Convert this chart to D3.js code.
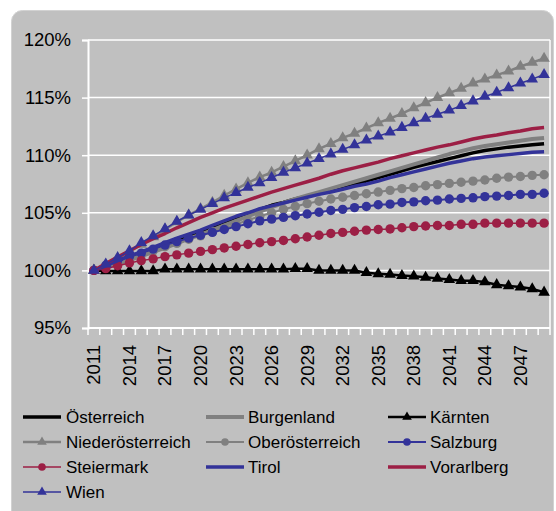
<!DOCTYPE html>
<html>
<head>
<meta charset="utf-8">
<script src="https://cdn.jsdelivr.net/npm/d3@7"></script>
<style>
  html, body { margin: 0; padding: 0; background: #ffffff; }
  svg { display: block; font-family: "Liberation Sans", Arial, sans-serif; }
</style>
</head>
<body>
<svg id="chart" width="556" height="511"></svg>
<script>
// Bevölkerungsentwicklung 2011 = 100 %
const years = d3.range(2011, 2050);
const yTicks = [95, 100, 105, 110, 115, 120];
const xLabelYears = [2011, 2014, 2017, 2020, 2023, 2026, 2029, 2032, 2035, 2038, 2041, 2044, 2047];

const oesterreich = [100.0, 100.4, 100.8, 101.2, 101.5, 101.9, 102.3, 102.6, 102.95, 103.3, 103.7, 104.1, 104.5, 104.9, 105.3, 105.65, 105.9, 106.2, 106.45, 106.7, 106.95, 107.2, 107.5, 107.75, 108.05, 108.35, 108.65, 108.95, 109.2, 109.45, 109.7, 109.95, 110.2, 110.4, 110.55, 110.7, 110.8, 110.9, 111.0];
const burgenland = [100.0, 100.3, 100.6, 100.9, 101.25, 101.6, 101.95, 102.35, 102.75, 103.1, 103.5, 103.9, 104.3, 104.7, 105.1, 105.5, 105.85, 106.2, 106.5, 106.8, 107.1, 107.4, 107.7, 108.0, 108.3, 108.6, 108.9, 109.2, 109.5, 109.8, 110.1, 110.35, 110.6, 110.8, 110.95, 111.1, 111.25, 111.4, 111.5];
const kaernten = [100.0, 99.95, 99.95, 99.95, 99.95, 99.95, 100.1, 100.1, 100.1, 100.1, 100.1, 100.1, 100.1, 100.1, 100.1, 100.1, 100.1, 100.15, 100.15, 100.0, 100.0, 100.0, 100.0, 99.8, 99.7, 99.65, 99.55, 99.5, 99.4, 99.3, 99.2, 99.1, 99.1, 99.0, 98.75, 98.65, 98.55, 98.4, 98.1];
const niederoesterreich = [100.0, 100.5, 101.05, 101.6, 102.25, 102.9, 103.55, 104.2, 104.8, 105.35, 105.9, 106.5, 107.05, 107.6, 108.1, 108.5, 109.0, 109.5, 110.0, 110.55, 111.0, 111.5, 111.9, 112.35, 112.8, 113.2, 113.6, 114.1, 114.55, 115.0, 115.4, 115.8, 116.25, 116.6, 116.95, 117.3, 117.7, 118.05, 118.4];
const oberoesterreich = [100.0, 100.35, 100.7, 101.05, 101.4, 101.7, 102.05, 102.35, 102.7, 103.0, 103.35, 103.65, 104.0, 104.35, 104.7, 105.0, 105.3, 105.55, 105.8, 106.0, 106.2, 106.35, 106.5, 106.65, 106.8, 106.95, 107.1, 107.2, 107.35, 107.45, 107.55, 107.65, 107.75, 107.85, 108.0, 108.1, 108.15, 108.25, 108.3];
const salzburg = [100.0, 100.45, 100.85, 101.2, 101.5, 101.85, 102.2, 102.5, 102.8, 103.05, 103.3, 103.55, 103.8, 104.05, 104.3, 104.45, 104.6, 104.75, 104.9, 105.05, 105.2, 105.3, 105.45, 105.55, 105.7, 105.75, 105.9, 105.95, 106.05, 106.1, 106.2, 106.25, 106.3, 106.4, 106.45, 106.5, 106.6, 106.6, 106.7];
const steiermark = [100.0, 100.15, 100.4, 100.65, 100.85, 101.0, 101.2, 101.35, 101.5, 101.65, 101.8, 101.95, 102.1, 102.25, 102.4, 102.5, 102.6, 102.75, 102.9, 103.05, 103.2, 103.3, 103.4, 103.5, 103.55, 103.6, 103.7, 103.8, 103.85, 103.9, 103.9, 104.0, 104.0, 104.1, 104.1, 104.1, 104.1, 104.1, 104.1];
const tirol = [100.0, 100.4, 100.85, 101.25, 101.6, 102.0, 102.4, 102.8, 103.15, 103.5, 103.9, 104.3, 104.7, 105.0, 105.35, 105.6, 105.85, 106.1, 106.35, 106.6, 106.8, 107.05, 107.3, 107.5, 107.75, 108.05, 108.3, 108.55, 108.8, 109.05, 109.3, 109.5, 109.7, 109.85, 109.95, 110.05, 110.15, 110.25, 110.3];
const vorarlberg = [100.0, 100.6, 101.15, 101.7, 102.25, 102.75, 103.2, 103.7, 104.15, 104.6, 105.0, 105.4, 105.75, 106.1, 106.45, 106.8, 107.1, 107.4, 107.7, 108.0, 108.35, 108.65, 108.9, 109.15, 109.4, 109.7, 109.95, 110.2, 110.45, 110.7, 110.9, 111.15, 111.4, 111.6, 111.75, 111.95, 112.1, 112.3, 112.4];
const wien = [100.0, 100.55, 101.1, 101.7, 102.4, 103.0, 103.6, 104.25, 104.8, 105.3, 105.8, 106.3, 106.75, 107.2, 107.6, 108.05, 108.5, 108.9, 109.3, 109.7, 110.1, 110.5, 110.9, 111.3, 111.65, 112.0, 112.4, 112.8, 113.2, 113.55, 113.9, 114.3, 114.7, 115.1, 115.45, 115.85, 116.25, 116.6, 117.0];

const seriesNames = ["Österreich", "Burgenland", "Kärnten", "Niederösterreich", "Oberösterreich", "Salzburg", "Steiermark", "Tirol", "Vorarlberg", "Wien"];
const seriesValues = [oesterreich, burgenland, kaernten, niederoesterreich, oberoesterreich, salzburg, steiermark, tirol, vorarlberg, wien];

// visual style per series: colour, line width, marker
const NAVY = "#333399", PLUM = "#9c1f45", GREY = "#808080";
const styles = [
  { color: "#000000", width: 3.5, marker: null },
  { color: GREY,      width: 4,   marker: null },
  { color: "#000000", width: 2.5, marker: "triangle" },
  { color: GREY,      width: 2.5, marker: "triangle" },
  { color: GREY,      width: 2,   marker: "circle" },
  { color: NAVY,      width: 2,   marker: "circle" },
  { color: PLUM,      width: 1.5, marker: "circle" },
  { color: NAVY,      width: 3.5, marker: null },
  { color: PLUM,      width: 3.5, marker: null },
  { color: NAVY,      width: 1.5, marker: "triangle" }
];

const svg = d3.select("#chart");
const plot = { left: 88, right: 550, top: 40, bottom: 328 };

// chart area panel
svg.append("rect")
  .attr("x", 11.5).attr("y", 10.5)
  .attr("width", 542).attr("height", 520)
  .attr("rx", 11).attr("ry", 11)
  .attr("fill", "#c0c0c0")
  .attr("stroke", "#d2d2d2").attr("stroke-width", 1);

const x = d3.scaleBand().domain(years).range([plot.left, plot.right]).padding(0);
const y = d3.scaleLinear().domain([95, 120]).range([plot.bottom, plot.top]);
const cx = yr => x(yr) + x.bandwidth() / 2;

// gridlines
svg.append("g").selectAll("line")
  .data(yTicks.filter(t => t !== 95))
  .join("line")
  .attr("x1", plot.left).attr("x2", plot.right)
  .attr("y1", d => y(d)).attr("y2", d => y(d))
  .attr("stroke", "#ffffff").attr("stroke-width", 1.5);

// right border of the plot area
svg.append("line")
  .attr("x1", plot.right).attr("x2", plot.right)
  .attr("y1", plot.top).attr("y2", plot.bottom)
  .attr("stroke", "#ffffff").attr("stroke-width", 1.5);

// y axis
const yAxis = d3.axisLeft(y).tickValues(yTicks).tickSize(6).tickPadding(11)
  .tickFormat(d => d + "%");
const gy = svg.append("g").attr("transform", `translate(${plot.left},0)`).call(yAxis);
gy.select(".domain").attr("stroke", "#ffffff").attr("stroke-width", 2);
gy.selectAll(".tick line").attr("stroke", "#ffffff").attr("stroke-width", 1.5);
gy.selectAll(".tick text")
  .attr("fill", "#000000")
  .style("font-size", "18.5px")
  .style("font-family", "'Liberation Sans', Arial, sans-serif");

// x axis: ticks at category boundaries, labels every third year
const gx = svg.append("g").attr("transform", `translate(0,${plot.bottom})`);
gx.append("line")
  .attr("x1", plot.left).attr("x2", plot.right)
  .attr("stroke", "#ffffff").attr("stroke-width", 2);
const boundaries = years.map(yr => x(yr)).concat([plot.right]);
gx.selectAll("line.tick")
  .data(boundaries)
  .join("line")
  .attr("class", "tick")
  .attr("x1", d => d).attr("x2", d => d)
  .attr("y1", 0).attr("y2", 7)
  .attr("stroke", "#ffffff").attr("stroke-width", 1.5);
gx.selectAll("text")
  .data(xLabelYears)
  .join("text")
  .attr("transform", d => `translate(${cx(d)},17) rotate(-90)`)
  .attr("text-anchor", "end")
  .attr("dy", "0.35em")
  .style("font-size", "18.5px")
  .attr("fill", "#000000")
  .text(d => d);

// series lines
const line = d3.line().x((d, i) => cx(years[i])).y(d => y(d));
const triangle = d3.symbol().type(d3.symbolTriangle).size(58);
const triangleSmall = d3.symbol().type(d3.symbolTriangle).size(40);

seriesValues.forEach((vals, si) => {
  const st = styles[si];
  const g = svg.append("g");
  g.append("path")
    .datum(vals)
    .attr("d", line)
    .attr("fill", "none")
    .attr("stroke", st.color)
    .attr("stroke-width", st.width)
    .attr("stroke-linejoin", "round");
  if (st.marker === "circle") {
    g.selectAll("circle").data(vals).join("circle")
      .attr("cx", (d, i) => cx(years[i])).attr("cy", d => y(d))
      .attr("r", 4.7).attr("fill", st.color);
  } else if (st.marker === "triangle") {
    g.selectAll("path.m").data(vals).join("path")
      .attr("class", "m")
      .attr("transform", (d, i) => `translate(${cx(years[i])},${y(d)})`)
      .attr("d", triangle).attr("fill", st.color);
  }
});

// legend
const legendCols = [
  { line: [23, 61], text: 66 },
  { line: [206, 244], text: 248 },
  { line: [388, 426], text: 430 }
];
const legendRows = [417, 442, 467, 492];
seriesNames.forEach((name, i) => {
  const col = legendCols[i % 3];
  const ry = legendRows[Math.floor(i / 3)];
  const st = styles[i];
  const g = svg.append("g");
  g.append("line")
    .attr("x1", col.line[0]).attr("x2", col.line[1])
    .attr("y1", ry).attr("y2", ry)
    .attr("stroke", st.color).attr("stroke-width", st.width);
  const mx = (col.line[0] + col.line[1]) / 2;
  if (st.marker === "circle") {
    g.append("circle").attr("cx", mx).attr("cy", ry).attr("r", 3.8).attr("fill", st.color);
  } else if (st.marker === "triangle") {
    g.append("path").attr("transform", `translate(${mx},${ry})`)
      .attr("d", triangleSmall).attr("fill", st.color);
  }
  g.append("text")
    .attr("x", col.text).attr("y", ry)
    .attr("dy", "0.35em")
    .style("font-size", "17px")
    .attr("fill", "#000000")
    .text(name);
});
</script>
</body>
</html>
